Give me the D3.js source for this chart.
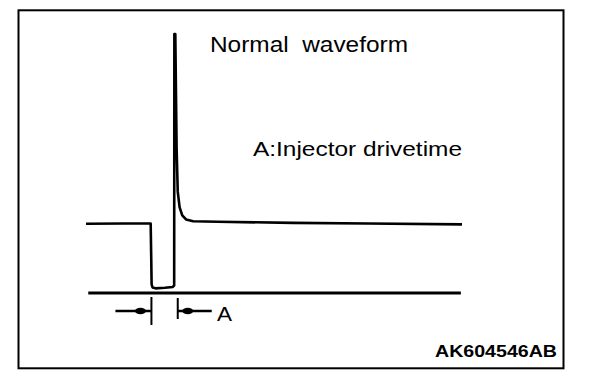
<!DOCTYPE html>
<html>
<head>
<meta charset="utf-8">
<script src="https://cdn.jsdelivr.net/npm/d3@7/dist/d3.min.js"></script>
<style>
  html, body { margin: 0; padding: 0; background: #fff; }
  svg { display: block; }
  text { font-family: "Liberation Sans", Arial, Helvetica, sans-serif; fill: #000; }
</style>
</head>
<body>
<svg id="chart" width="608" height="380"></svg>
<script>
// ---- data (time in arbitrary units, voltage in volts) ----
const waveTime  = [0, 10, 17.2, 17.35, 17.45, 17.7, 18.5, 21, 23.1, 23.45, 23.5, 23.75, 24.1, 24.4, 24.9, 25.6, 26.6, 28.5, 35, 55, 75, 100];
const waveVolts = [11.95, 12.0, 12.0, 6, 1.5, 0.95, 0.8, 0.9, 1.05, 1.3, 44.7, 44.7, 25, 17.5, 14.8, 13.4, 12.7, 12.4, 12.3, 12.1, 12.0, 11.85];
const groundTime  = [0.6, 99.7];
const groundVolts = [0, 0];
const driveStart = 17.4;   // A: injector drive time start
const driveEnd   = 24.4;   // A: injector drive time end
const titleText  = "Normal\u00a0\u00a0waveform";
const noteText   = "A:Injector drivetime";
const markText   = "A";
const codeText   = "AK604546AB";

// ---- scales ----
const x = d3.scaleLinear().domain([0, 100]).range([86, 462]);
const y = d3.scaleLinear().domain([0, 12]).range([293, 223.5]);

const svg = d3.select("#chart");

// frame
svg.append("rect")
  .attr("x", 18.5).attr("y", 10.3)
  .attr("width", 545).attr("height", 358)
  .attr("fill", "none").attr("stroke", "#000").attr("stroke-width", 2);

const line = d3.line().x(d => x(d[0])).y(d => y(d[1])).curve(d3.curveLinear);

// ground line
svg.append("path")
  .attr("d", line(d3.zip(groundTime, groundVolts)))
  .attr("fill", "none").attr("stroke", "#000").attr("stroke-width", 2.8);

// waveform
svg.append("path")
  .attr("d", line(d3.zip(waveTime, waveVolts)))
  .attr("fill", "none").attr("stroke", "#000").attr("stroke-width", 2.6)
  .attr("stroke-linejoin", "round");

// drive time markers
const ay = 311;
const g = svg.append("g");
g.append("line").attr("x1", x(driveStart)).attr("x2", x(driveStart))
  .attr("y1", 297).attr("y2", 325).attr("stroke", "#000").attr("stroke-width", 2);
g.append("line").attr("x1", x(driveEnd)).attr("x2", x(driveEnd))
  .attr("y1", 298).attr("y2", 319).attr("stroke", "#000").attr("stroke-width", 2);
// left arrow pointing to start
g.append("line").attr("x1", x(driveStart) - 36).attr("x2", x(driveStart))
  .attr("y1", ay).attr("y2", ay).attr("stroke", "#000").attr("stroke-width", 2.4);
g.append("ellipse").attr("cx", x(driveStart) - 11).attr("cy", ay)
  .attr("rx", 5.5).attr("ry", 3.3).attr("fill", "#000");
// right arrow pointing to end
g.append("line").attr("x1", x(driveEnd)).attr("x2", x(driveEnd) + 34)
  .attr("y1", ay).attr("y2", ay).attr("stroke", "#000").attr("stroke-width", 2.4);
g.append("ellipse").attr("cx", x(driveEnd) + 10).attr("cy", ay)
  .attr("rx", 5.5).attr("ry", 3.3).attr("fill", "#000");

// texts
svg.append("text").attr("x", 210).attr("y", 51.5)
  .attr("font-size", 21.5).attr("textLength", 198).attr("lengthAdjust", "spacingAndGlyphs")
  .text(titleText);
svg.append("text").attr("x", 253).attr("y", 155.5)
  .attr("font-size", 21).attr("textLength", 209).attr("lengthAdjust", "spacingAndGlyphs")
  .text(noteText);
svg.append("text").attr("x", 217).attr("y", 321)
  .attr("font-size", 21).attr("textLength", 15).attr("lengthAdjust", "spacingAndGlyphs")
  .text(markText);
svg.append("text").attr("x", 435).attr("y", 357)
  .attr("font-size", 16.5).attr("font-weight", "bold")
  .attr("textLength", 122).attr("lengthAdjust", "spacingAndGlyphs")
  .text(codeText);
</script>
</body>
</html>
